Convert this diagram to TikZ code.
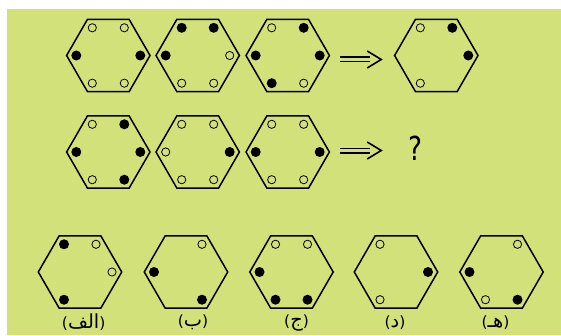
\documentclass[tikz,border=0pt]{standalone}
\usepackage{fontspec}
\usetikzlibrary{shapes.geometric,calc}
\TeXXeTstate=1
\newfontfamily\arabicfont[Script=Arabic,Scale=1.25]{DejaVu Sans}
\newfontfamily\qfont{DejaVu Sans}
\definecolor{panel}{RGB}{211,225,123}
\tikzset{
  hexcell/.style={regular polygon, regular polygon sides=6, draw, line width=1.5pt,
    minimum size=83.4pt, inner sep=0pt, outer sep=0pt},
  dotf/.style={circle, fill=black, minimum size=10pt, inner sep=0pt},
  doto/.style={circle, draw, line width=0.8pt, minimum size=8.2pt, inner sep=0pt},
  implies/.style={draw, double=panel, double distance=2.2pt, line width=1.9pt},
  impliestip/.style={draw, line width=1.6pt, line join=miter},
  choice/.style={font=\qfont\fontsize{15.5}{18}\selectfont, inner sep=0pt},
}
% dots sit on a ring of radius 32pt, at the six corner directions
\newcommand\hexdots[2]{%
  \foreach \a/\t in {#2}{%
    \node[dot\t] (#1-\a) at ($(#1.center)+(\a:32pt)$) {};}}
% double arrow with an open chevron head, beside a hexagon
\newcommand\impliesarrow[3]{%
  \coordinate (#1-s) at ($(#2.center)+(52.5pt,#3)$);
  \coordinate (#1-e) at ($(#2.center)+(82pt,#3)$);
  \coordinate (#1-t) at ($(#2.center)+(93.5pt,#3)$);
  \path[implies] (#1-s) -- (#1-e);
  \path[impliestip] ($(#1-t)+(-14pt,8.5pt)$) -- (#1-t) -- ($(#1-t)+(-14pt,-8.5pt)$);}
% a choice letter in parentheses
\newcommand\choicetext[1]{(\mbox{\arabicfont\beginR #1\endR})}
\begin{document}
\begin{tikzpicture}[x=1pt,y=1pt]
\useasboundingbox (0,0) rectangle (561,335);
\fill[panel] (7,0) rectangle (561,326);

% first row: three figures and their result
\node[hexcell] (h11) at (108.3,279.5) {};
\node[hexcell] (h12) at (197.7,279.5) {};
\node[hexcell] (h13) at (287.7,279.5) {};
\node[hexcell] (h14) at (436.3,279.5) {};
\hexdots{h11}{120/o,60/o,0/f,300/o,240/o,180/f}
\hexdots{h12}{120/f,60/f,0/o,300/o,240/o,180/f}
\hexdots{h13}{120/o,60/f,0/f,300/o,240/f,180/f}
\hexdots{h14}{120/o,60/f,0/f,240/o}
\impliesarrow{ar1}{h13}{-4pt}

% second row: three figures and the unknown
\node[hexcell] (h21) at (108.3,183) {};
\node[hexcell] (h22) at (197.7,183) {};
\node[hexcell] (h23) at (287.7,183) {};
\hexdots{h21}{120/o,60/f,0/f,300/f,240/o,180/f}
\hexdots{h22}{120/o,60/o,0/f,300/o,240/o,180/o}
\hexdots{h23}{120/o,60/o,0/f,300/o,240/o,180/f}
\impliesarrow{ar2}{h23}{1.5pt}
\node[font=\qfont\fontsize{33}{38}\selectfont, xscale=0.8, inner sep=0pt] (qm) at (415.3,186.5) {?};

% answer choices
\node[hexcell] (ca) at (80,63) {};
\node[hexcell] (cb) at (186,63) {};
\node[hexcell] (cc) at (291.5,63) {};
\node[hexcell] (cd) at (396,63) {};
\node[hexcell] (ce) at (501.5,63) {};
\hexdots{ca}{120/f,60/o,0/o,240/f}
\hexdots{cb}{60/o,180/f,300/f}
\hexdots{cc}{120/o,60/o,180/f,240/f,300/f}
\hexdots{cd}{120/o,0/f,240/o}
\hexdots{ce}{60/o,180/f,240/o,300/f}

\node[choice] (la) at ($(ca.center)+(3.7pt,-50.5pt)$) {\choicetext{الف}};
\node[choice] (lb) at ($(cb.center)+(7pt,-50.5pt)$) {\choicetext{ب}};
\node[choice] (lc) at ($(cc.center)+(5pt,-50.5pt)$) {\choicetext{ج}};
\node[choice] (ld) at ($(cd.center)+(-1pt,-50.5pt)$) {\choicetext{د}};
\node[choice] (le) at ($(ce.center)+(-6pt,-50.5pt)$) {\choicetext{هـ}};
\end{tikzpicture}
\end{document}
